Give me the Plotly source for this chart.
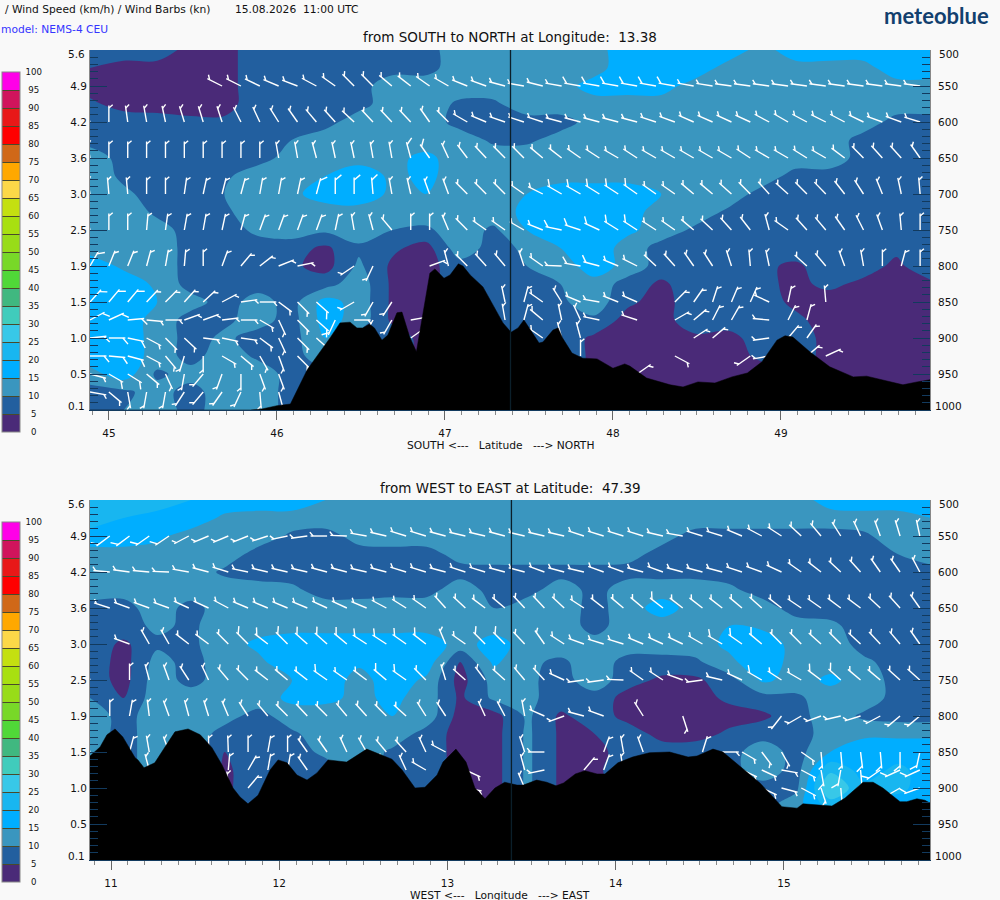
import numpy as np
import plotly.graph_objects as go

band_colors = ["#4a2a78", "#225f9f", "#3a96bf", "#00aeff", "#18b6f0", "#38c8e8", "#40ccbc", "#40b880",
               "#50d838", "#78d828", "#98dc18", "#a8e010", "#c4e010", "#fcd848", "#ffa800", "#d06818",
               "#ff0000", "#e81818", "#d0145c", "#ff00e8"]
band_labels = [0, 5, 10, 15, 20, 25, 30, 35, 40, 45, 50, 55, 60, 65, 70, 75, 80, 85, 90, 95, 100]

height_labels = ["5.6", "4.9", "4.2", "3.6", "3.0", "2.5", "1.9", "1.5", "1.0", "0.5", "0.1"]
pressure_ticks = [500, 550, 600, 650, 700, 750, 800, 850, 900, 950, 1000]
grid_levels = [500, 525, 550, 575, 600, 625, 650, 675, 700, 725, 750, 775, 800, 825, 850, 875, 900, 925, 950, 975, 1000]

# wind speed km/h, south to north section
ns_500 = [8,8,8,3,3,8,8,8,8,8,8,13,13,13,13,13,18,18,18,18,13,18,18,18,18,18]
ns_525 = [5,3,3,3,3,8,8,8,8,8,8,13,13,13,13,13,18,18,18,13,13,13,13,13,18,18]
ns_550 = [3,3,3,3,3,8,8,8,8,13,13,13,13,13,13,17,17,17,13,13,13,13,13,13,13,13]
ns_575 = [6,3,3,3,3,8,8,8,8,13,13,9,9,13,13,13,13,13,13,13,13,13,13,13,13,13]
ns_600 = [8,8,7,6,6,8,8,8,13,13,13,8,8,8,8,12,13,13,13,13,13,13,13,13,8,8]
ns_625 = [8,8,8,8,8,8,10,13,13,13,13,13,9,9,12,13,13,13,13,13,13,13,13,8,8,8]
ns_650 = [13,8,8,8,8,8,12,13,13,14,16,13,13,13,13,13,13,13,13,13,13,13,13,8,8,8]
ns_675 = [13,9,8,8,9,13,13,15,18,14,16,13,13,13,13,13,13,13,13,13,13,8,8,8,8,8]
ns_700 = [13,11,8,8,10,13,14,17,18,14,15,13,13,15,18,18,18,15,13,13,8,8,8,8,8,8]
ns_725 = [13,13,9,8,9,13,13,13,13,13,13,13,13,16,18,18,17,13,13,9,8,8,8,8,8,8]
ns_750 = [13,13,12,8,8,11,13,11,13,10,9,13,9,15,18,18,16,13,9,8,8,8,8,8,8,8]
ns_775 = [13,13,13,8,8,8,7,4,9,6,3,13,8,11,15,18,13,8,8,8,8,8,8,8,6,8]
ns_800 = [18,14,13,8,5,8,6,3,11,4,3,8,8,10,12,18,13,8,8,8,6,4,8,7,4,8]
ns_825 = [18,18,14,8,8,8,8,8,13,4,3,8,8,9,10,13,8,4,8,8,6,4,6,4,3,4]
ns_850 = [18,18,15,12,8,12,8,17,13,4,3,8,8,8,9,13,6,3,8,8,7,4,3,3,3,3]
ns_875 = [18,18,13,8,9,12,8,17,13,4,3,8,8,8,8,9,3,3,8,8,8,6,3,3,3,3]
ns_900 = [18,18,13,8,11,8,8,15,8,8,3,8,8,8,8,4,3,3,4,3,8,8,3,3,3,3]
ns_925 = [18,18,13,8,13,9,8,13,8,8,3,8,8,8,8,4,3,3,3,3,6,8,3,3,3,3]
ns_950 = [13,18,9,12,13,13,8,8,8,8,3,8,8,8,8,4,3,3,3,3,3,8,3,3,3,3]
ns_975 = [8,9,12,8,13,13,8,8,8,8,3,8,8,8,3,3,3,3,3,3,3,8,3,3,3,3]
ns_1000 = [8,10,13,8,13,13,8,8,8,8,3,8,8,8,3,3,3,3,3,3,3,8,3,3,3,3]
ns_speed = [ns_500, ns_525, ns_550, ns_575, ns_600, ns_625, ns_650, ns_675, ns_700, ns_725, ns_750,
            ns_775, ns_800, ns_825, ns_850, ns_875, ns_900, ns_925, ns_950, ns_975, ns_1000]

# wind speed km/h, west to east section
ew_500 = [23,23,23,20,18,18,18,15,13,13,13,13,13,13,13,13,13,13,13,13,13,13,17,18,18,18]
ew_525 = [23,20,18,18,14,13,13,13,13,13,13,13,13,13,13,13,13,13,13,13,13,13,13,13,13,15]
ew_550 = [18,18,16,13,13,13,9,8,12,13,13,13,13,13,13,13,13,12,8,8,8,8,8,9,13,13]
ew_575 = [13,13,13,13,13,8,8,8,8,8,8,12,13,13,13,13,12,8,8,8,8,8,8,8,10,13]
ew_600 = [13,13,13,13,9,8,8,8,8,8,8,8,8,8,8,8,8,8,8,8,8,8,8,8,8,8]
ew_625 = [13,12,13,13,13,12,11,8,8,8,8,13,8,8,13,8,13,13,13,11,8,8,8,8,8,8]
ew_650 = [8,8,13,8,13,13,13,12,12,13,13,13,10,13,13,8,13,17,13,13,12,8,8,8,8,8]
ew_675 = [8,8,11,9,13,13,13,13,13,13,13,13,13,13,13,8,13,13,13,15,14,12,11,8,8,8]
ew_700 = [8,4,9,9,13,16,18,18,18,18,18,13,17,13,13,12,13,13,13,16,18,13,13,8,8,8]
ew_725 = [8,3,12,8,13,14,18,18,16,18,18,5,16,11,9,13,8,8,9,14,18,13,13,11,8,8]
ew_750 = [8,3,13,8,13,13,15,18,13,18,14,3,12,11,8,13,7,4,4,8,16,13,16,13,8,8]
ew_775 = [10,5,13,13,13,13,16,16,14,16,13,4,11,11,8,8,3,3,3,6,8,9,13,13,8,8]
ew_800 = [13,8,13,13,12,8,13,13,13,15,13,3,3,11,4,8,3,3,3,3,4,8,13,9,8,8]
ew_825 = [13,8,13,13,8,8,9,13,13,13,8,3,3,11,4,5,8,3,3,6,8,8,12,14,14,14]
ew_850 = [13,8,13,13,5,8,8,11,13,9,8,3,3,11,4,3,8,8,8,8,13,8,15,18,18,18]
ew_875 = [13,8,13,13,4,8,8,8,13,9,8,3,3,11,4,4,8,8,8,8,13,8,24,18,21,18]
ew_900 = [13,8,13,13,4,8,8,8,13,9,8,3,3,11,4,3,8,8,8,8,8,9,30,21,21,18]
ew_925 = [13,8,13,13,4,8,8,8,13,9,8,3,3,11,4,3,8,8,8,8,8,13,22,18,18,18]
ew_950 = [8,8,8,8,8,8,8,8,8,8,8,8,8,8,8,8,8,8,8,8,8,8,8,8,8,8]
ew_975 = [8,8,8,8,8,8,8,8,8,8,8,8,8,8,8,8,8,8,8,8,8,8,8,8,8,8]
ew_1000 = [8,8,8,8,8,8,8,8,8,8,8,8,8,8,8,8,8,8,8,8,8,8,8,8,8,8]
ew_speed = [ew_500, ew_525, ew_550, ew_575, ew_600, ew_625, ew_650, ew_675, ew_700, ew_725, ew_750,
            ew_775, ew_800, ew_825, ew_850, ew_875, ew_900, ew_925, ew_950, ew_975, ew_1000]

# terrain, pressure at ground
ns_terrain_lat = [44.887,45.84,45.91,46.0,46.08,46.18,46.32,46.375,46.435,46.476,46.51,46.55,46.58,46.625,46.66,46.714,46.744,46.79,46.83,46.863,46.91,46.94,46.994,47.03,47.08,47.107,47.15,47.226,47.286,47.345,47.393,47.435,47.47,47.518,47.56,47.583,47.643,47.673,47.70,47.756,47.82,47.905,48.0,48.07,48.10,48.20,48.34,48.417,48.506,48.607,48.708,48.80,48.887,48.976,49.024,49.07,49.173,49.29,49.43,49.51,49.63,49.726,49.81,49.887]
ns_terrain_hpa = [1000,1000,998.6,994,991.7,944,898.6,879,878,886,886,880.6,886,903,896,865,864,898.6,919,875,810,804,817,812.5,797,800,812.5,829,854,879,892,886,875,892,907,905.6,889,886,900,921,928,929,942,936,939,955.6,965,968,961,962.5,954,948.6,933,903,897,898.6,919.4,940,954,953,960,965,961,958]
ew_terrain_lon = [10.875,10.935,10.976,11.024,11.07,11.143,11.16,11.196,11.26,11.31,11.38,11.458,11.53,11.60,11.66,11.725,11.767,11.814,11.874,11.945,11.993,12.046,12.105,12.165,12.224,12.29,12.36,12.40,12.52,12.67,12.73,12.807,12.866,12.938,12.973,13.05,13.11,13.163,13.223,13.282,13.34,13.413,13.45,13.53,13.59,13.645,13.69,13.76,13.817,13.889,13.936,14.013,14.10,14.20,14.32,14.43,14.483,14.578,14.637,14.75,14.857,14.988,15.078,15.113,15.256,15.285,15.363,15.47,15.53,15.588,15.69,15.73,15.79,15.838,15.868]
ew_terrain_hpa = [855.6,843,826,818,829,858,861,872,865,847,822,818,826,844,868,900,912.5,922,910,875,861,865,882,889,879,861,862.5,864,846,860,875,900,899,882,864,846,864,900,915,900,892,896,896,889,892,897,893,880.5,876,880.5,880.5,865,857,851,850,857,855.6,846,850,872,893,926,928,922,925,925,914,892,892,900,919,919,915,917,921]

# barb direction in compass degrees, None where the picture has no barb
nsb_550 = [None,None,None,None,None,None,None,297,297,296,293,291,298,305,315,315,310,308,305,300,292,290,285,280,284,280,280,280,280,280,280,280,280,279,278,278,278,278,278,278,278,278,278,278,278]
nsb_600 = [340,0,352,350,348,343,343,342,333,335,328,325,320,318,313,317,317,317,325,315,300,293,289,288,288,285,285,285,285,285,288,290,294,294,295,295,298,300,298,297,298,296,290,290,287]
nsb_650 = [350,0,0,0,0,0,0,0,0,0,350,350,345,348,348,350,350,345,325,335,323,317,315,315,310,308,305,303,300,303,300,300,300,300,300,303,300,300,302,300,307,315,318,318,325]
nsb_700 = [350,355,355,0,0,8,12,14,15,10,10,12,15,0,0,355,350,347,340,340,315,315,315,305,297,300,300,302,303,305,305,305,310,310,312,315,318,312,315,316,322,327,338,348,355]
nsb_750 = [345,0,0,5,8,10,10,12,15,20,20,20,20,12,350,345,320,0,0,337,315,305,305,300,292,282,288,295,302,303,303,305,310,313,318,322,345,305,318,320,325,333,340,355,0]
nsb_800 = [30,22,22,15,10,5,0,20,40,52,68,78,None,None,236,205,None,None,70,345,315,318,320,342,305,272,280,285,293,297,313,318,325,327,342,355,348,None,312,320,340,350,0,15,0]
nsb_850 = [42,40,40,43,45,42,47,62,82,90,127,135,132,None,240,210,213,None,None,None,None,None,348,15,305,328,293,280,292,294,None,45,35,18,23,24,295,12,None,355,None,None,None,None,None]
nsb_875 = [62,65,85,95,90,70,70,83,90,120,155,135,132,205,90,210,210,80,None,None,None,None,350,15,310,348,335,282,None,288,None,60,50,27,30,None,275,27,15,None,None,None,None,None,None]
nsb_900 = [84,90,102,118,135,133,97,102,98,127,155,135,132,None,None,None,None,55,None,None,None,None,None,None,305,345,345,None,None,None,None,None,57,50,None,None,262,40,35,None,None,None,None,None,None]
nsb_925 = [90,95,105,118,140,197,180,120,130,150,160,135,None,None,None,None,None,None,None,None,None,None,None,None,None,None,0,None,None,None,None,118,None,None,None,235,260,None,50,65,None,None,None,None,None]
nsb_950 = [105,120,122,130,155,190,220,200,180,160,160,None,None,None,None,None,None,None,None,None,None,None,None,None,None,None,None,None,None,55,None,None,None,None,None,None,None,None,None,None,None,None,None,None,None]
nsb_975 = [100,130,170,190,190,213,220,215,205,175,165,None,None,None,None,None,None,None,None,None,None,None,None,None,None,None,None,None,None,None,None,None,None,None,None,None,None,None,None,None,None,None,None,None,None]
ns_barbs = {550: nsb_550, 600: nsb_600, 650: nsb_650, 700: nsb_700, 750: nsb_750, 800: nsb_800,
            850: nsb_850, 875: nsb_875, 900: nsb_900, 925: nsb_925, 950: nsb_950, 975: nsb_975}

ewb_550 = [None,233,233,235,236,242,247,247,248,252,258,262,270,272,280,283,287,287,285,283,283,285,283,283,283,288,287,287,287,283,280,287,287,293,298,303,313,320,328,335,340,343,348]
ewb_600 = [None,275,278,275,272,280,285,287,282,283,283,283,285,285,283,285,287,287,285,288,287,285,285,290,285,283,290,290,285,290,285,285,285,288,290,295,305,308,313,318,325,325,332]
ewb_650 = [None,288,290,290,290,295,295,298,293,293,293,293,295,295,293,298,302,305,318,313,307,310,317,317,313,303,308,310,310,308,308,308,308,310,312,308,304,305,307,307,313,318,325]
ewb_700 = [None,None,290,330,330,308,307,315,315,308,315,312,312,310,303,303,305,308,337,305,315,315,317,325,303,290,287,287,293,295,296,300,300,305,310,315,315,312,315,313,317,320,325]
ewb_750 = [340,None,0,345,340,327,335,320,315,308,310,308,305,305,307,310,305,315,343,312,323,312,320,317,295,262,262,272,305,303,290,262,283,295,300,303,300,307,312,310,310,312,312]
ewb_800 = [None,0,10,353,340,345,343,337,327,320,315,317,315,320,318,315,312,328,327,None,335,332,350,294,250,285,290,None,328,None,162,None,None,None,None,218,240,250,257,253,242,230,230]
ewb_850 = [340,None,15,350,340,None,0,358,0,10,0,325,325,335,330,320,318,335,298,None,None,None,342,270,None,None,20,350,340,None,None,17,90,120,143,150,125,175,175,173,175,180,192]
ewb_875 = [None,None,None,345,None,None,None,5,30,10,10,325,None,None,None,327,335,300,None,115,None,None,345,258,None,40,20,350,None,None,None,None,None,115,115,100,118,170,190,175,235,245,245]
ewb_900 = [None,None,None,None,None,None,None,355,40,None,None,None,None,None,None,None,330,None,None,100,None,None,337,None,None,None,None,None,None,None,None,None,None,None,115,105,118,162,175,None,None,240,250]
ew_barbs = {550: ewb_550, 600: ewb_600, 650: ewb_650, 700: ewb_700, 750: ewb_750, 800: ewb_800,
            850: ewb_850, 875: ewb_875, 900: ewb_900}

BARB_LEN = 16.5
PX_PER_HPA = 0.72
PX_PER_DEG = 168.0
PAGE_W, PAGE_H = 1000, 900


def barb_lines(barbs, start, step, grid_x, speed):
    xs, ys = [], []
    grid_x = np.array(grid_x)
    grid_p = np.array(grid_levels)
    for level, dirs in barbs.items():
        for i, d in enumerate(dirs):
            if d is None:
                continue
            x0 = start + i * step
            a = np.radians(d)
            xs += [x0, x0 + BARB_LEN * np.sin(a) / PX_PER_DEG, None]
            ys += [level, level - BARB_LEN * np.cos(a) / PX_PER_HPA, None]
            # feather leaves the shaft just below the tip, which gives the little fork
            fx = x0 + (BARB_LEN - 2.5) * np.sin(a) / PX_PER_DEG
            fy = level - (BARB_LEN - 2.5) * np.cos(a) / PX_PER_HPA
            z = speed[np.abs(grid_p - level).argmin()][np.abs(grid_x - x0).argmin()]
            flen = 8 if z >= 16 else 5
            b = np.radians(d + 50)
            xs += [fx, fx + flen * np.sin(b) / PX_PER_DEG, None]
            ys += [fy, fy - flen * np.cos(b) / PX_PER_HPA, None]
    return xs, ys


colorscale = []
for n, c in enumerate(band_colors):
    colorscale += [[n / 20, c], [(n + 1) / 20, c]]

fig = go.Figure()


def bar_label(v):
    # labels are centred in the reference, so pad the short ones
    pad = {1: 3, 2: 2, 3: 1}[len(str(v))]
    return "\u00a0" * pad + str(v)


def add_panel(n, grid_x, speed, bar_top, barbs, b_start, b_step, ter_x, ter_p):
    xa = "x" if n == 0 else "x2"
    ya = "y" if n == 0 else "y2"
    ya_r = "y3" if n == 0 else "y4"
    fig.add_trace(go.Contour(
        x=grid_x, y=grid_levels, z=speed, zmin=0, zmax=100, autocontour=False,
        contours=dict(start=0, end=100, size=5, coloring="fill", showlines=False),
        line=dict(width=0), colorscale=colorscale, hoverinfo="skip", xaxis=xa, yaxis=ya,
        colorbar=dict(x=2 / PAGE_W, xanchor="left", xpad=0, ypad=0, y=1 - bar_top / PAGE_H, yanchor="top",
                      thickness=18, thicknessmode="pixels", len=360, lenmode="pixels",
                      tickmode="array", tickvals=band_labels, ticktext=[bar_label(v) for v in band_labels],
                      ticks="inside", ticklen=18, tickwidth=1, tickcolor="#4a4a2a",
                      tickfont=dict(family="DejaVu Sans", size=8.6, color="#111"),
                      outlinecolor="#888", outlinewidth=1)))
    bx, by = barb_lines(barbs, b_start, b_step, grid_x, speed)
    fig.add_trace(go.Scatter(x=bx, y=by, mode="lines", line=dict(color="white", width=1.4),
                             hoverinfo="skip", xaxis=xa, yaxis=ya))
    # terrain sits in the overlay axis so it covers the barbs
    fig.add_trace(go.Scatter(x=[ter_x[0]] + ter_x + [ter_x[-1]], y=[1000] + ter_p + [1000], mode="lines",
                             fill="toself", fillcolor="black", line=dict(color="black", width=0.5),
                             hoverinfo="skip", xaxis=xa, yaxis=ya_r))


ns_grid_lat = [round(44.887 + 0.2 * k, 3) for k in range(26)]
ew_grid_lon = [round(10.875 + 0.2 * k, 3) for k in range(26)]

add_panel(0, ns_grid_lat, ns_speed, 72, ns_barbs, 44.887, 0.1123, ns_terrain_lat, ns_terrain_hpa)
add_panel(1, ew_grid_lon, ew_speed, 522, ew_barbs, 10.875, 0.11744, ew_terrain_lon, ew_terrain_hpa)


def y_axis(side, domain, labels, overlay=None):
    ax = dict(domain=domain, range=[1000, 500], side=side, tickmode="array", tickvals=pressure_ticks,
              ticktext=labels, ticks="inside", ticklen=17, tickwidth=1, tickcolor="#123a5e",
              minor=dict(tickmode="linear", tick0=500, dtick=10, ticks="inside", ticklen=8, tickwidth=1,
                         tickcolor="#123a5e"),
              showgrid=False, zeroline=False, showline=True, linecolor="#888", linewidth=1,
              tickfont=dict(family="DejaVu Sans", size=10.5, color="#111"))
    if overlay:
        ax["overlaying"] = overlay
    return ax


def x_axis(rng, ticks, anchor):
    return dict(domain=[0.09, 0.93], range=rng, anchor=anchor, tickmode="array", tickvals=ticks,
                ticktext=[str(t) for t in ticks], ticks="outside", ticklen=9, tickwidth=1, tickcolor="#666",
                minor=dict(tickmode="linear", tick0=ticks[0], dtick=0.1, ticks="outside", ticklen=4,
                           tickwidth=1, tickcolor="#888"),
                showgrid=False, zeroline=False, showline=True, linecolor="#123a5e", linewidth=1,
                ticklabelstandoff=4, tickfont=dict(family="DejaVu Sans", size=10.5, color="#111"))


top_dom = [1 - 410 / PAGE_H, 1 - 50 / PAGE_H]
bot_dom = [1 - 860 / PAGE_H, 1 - 500 / PAGE_H]
blank_ends = [""] + height_labels[1:-1] + [""]
blank_right = [""] + [str(p) for p in pressure_ticks[1:-1]] + [""]

fig.update_layout(
    width=PAGE_W, height=PAGE_H, margin=dict(l=0, r=0, t=0, b=0), showlegend=False, hovermode=False,
    paper_bgcolor="#f9f9f9", plot_bgcolor="#f9f9f9",
    xaxis=x_axis([44.887, 49.887], [45, 46, 47, 48, 49], "y"),
    xaxis2=x_axis([10.875, 15.868], [11, 12, 13, 14, 15], "y2"),
    yaxis=dict(y_axis("left", top_dom, blank_ends), anchor="x"),
    yaxis2=dict(y_axis("left", bot_dom, blank_ends), anchor="x2"),
    yaxis3=dict(y_axis("right", top_dom, blank_right, "y"), anchor="x", ticklabelstandoff=5),
    yaxis4=dict(y_axis("right", bot_dom, blank_right, "y2"), anchor="x2", ticklabelstandoff=5),
)

fig.add_shape(type="line", xref="x", yref="y", x0=47.39, x1=47.39, y0=500, y1=1000,
              line=dict(color="#0b1f2a", width=1.3))
fig.add_shape(type="line", xref="x2", yref="y2", x0=13.38, x1=13.38, y0=500, y1=1000,
              line=dict(color="#0b1f2a", width=1.3))


def page_text(text, px, py, size, color="#111", anchor="left", family="DejaVu Sans"):
    fig.add_annotation(text=text, xref="paper", yref="paper", x=px / PAGE_W, y=1 - py / PAGE_H, showarrow=False,
                       xanchor=anchor, yanchor="middle", font=dict(family=family, size=size, color=color))


page_text("/ Wind Speed (km/h) / Wind Barbs (kn)", 3, 9, 10.7)
page_text("15.08.2026\u00a0\u00a011:00 UTC", 233, 9, 10.7)
page_text("model: NEMS-4 CEU", -1, 29, 10.7, color="#3535ff")
page_text("<b>meteoblue</b>", 936, 15, 22, color="#12406e", anchor="center", family="Lato")
page_text("from SOUTH to NORTH at Longitude:\u00a0\u00a013.38", 510, 37, 13.5, anchor="center")
page_text("from WEST to EAST at Latitude:\u00a0\u00a047.39", 510, 488, 13.5, anchor="center")
page_text("SOUTH &lt;---\u00a0\u00a0\u00a0Latitude\u00a0\u00a0\u00a0---&gt; NORTH", 500, 445, 10.7, anchor="center")
page_text("WEST &lt;---\u00a0\u00a0\u00a0Longitude\u00a0\u00a0\u00a0---&gt; EAST", 500, 895, 10.7, anchor="center")

# end labels sit inside the axis range, so they are placed by hand
for ya, xr in (("y", "x domain"), ("y2", "x2 domain")):
    for p, left, right, shift in ((500, "5.6", "500", -4), (1000, "0.1", "1000", 4)):
        fig.add_annotation(text=left, xref=xr, yref=ya, x=0, y=p, xanchor="right", xshift=-3, yshift=shift,
                           showarrow=False, font=dict(family="DejaVu Sans", size=10.5, color="#111"))
        fig.add_annotation(text=right, xref=xr, yref=ya, x=1, y=p, xanchor="left", yshift=shift,
                           xshift=7 if p == 500 else 3, showarrow=False,
                           font=dict(family="DejaVu Sans", size=10.5, color="#111"))

fig.write_html("out.html", config={"displayModeBar": False},
               post_script="document.body.style.margin='0';document.body.style.overflow='hidden';")
